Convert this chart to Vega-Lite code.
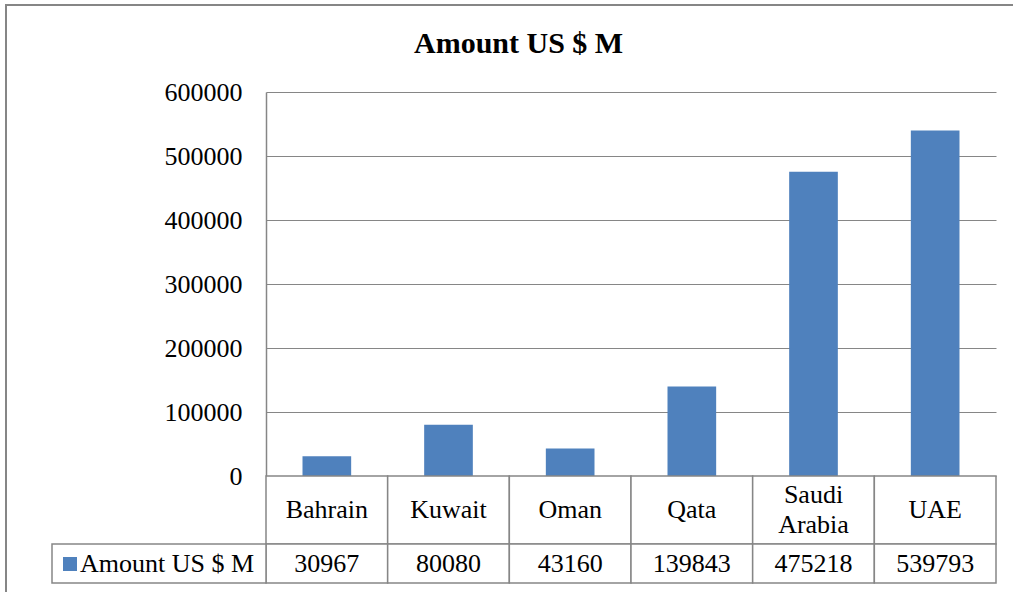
{
  "$schema": "https://vega.github.io/schema/vega-lite/v6.json",
  "width": 1015,
  "height": 595,
  "autosize": {"type": "none"},
  "padding": {"left": 6, "top": 5, "right": -8, "bottom": -8},
  "background": "white",
  "view": {"stroke": "#868686", "strokeWidth": 2, "fill": "white"},
  "title": {"text": "Amount US $ M", "fontSize": 30, "fontWeight": "bold", "font": "Liberation Serif", "color": "black", "anchor": "start", "frame": "group", "offset": -54, "dx": 408},
  "config": {"font": "Liberation Serif"},
  "datasets": {
    "gcc": [
      {"country": "Bahrain", "amount": 30967},
      {"country": "Kuwait", "amount": 80080},
      {"country": "Oman", "amount": 43160},
      {"country": "Qata", "amount": 139843},
      {"country": "Saudi Arabia", "amount": 475218},
      {"country": "UAE", "amount": 539793}
    ]
  },
  "resolve": {"scale": {"x": "independent", "y": "independent"}},
  "layer": [
    {
      "data": {"name": "gcc"},
      "mark": {"type": "bar"},
      "encoding": {
        "x": {"field": "country", "type": "nominal", "sort": null, "scale": {"range": [260, 990], "paddingInner": 0.6, "paddingOuter": 0.3}, "axis": null},
        "y": {"field": "amount", "type": "quantitative", "scale": {"domain": [0, 600000], "range": [471, 87], "nice": false},
          "axis": {"values": [0, 100000, 200000, 300000, 400000, 500000, 600000], "format": "d", "title": null, "ticks": false, "offset": -260, "labelPadding": 24, "labelFontSize": 26, "labelColor": "black", "labelFont": "Liberation Serif", "gridColor": "#868686", "gridOpacity": 1, "gridWidth": 1, "domainColor": "#868686", "domainWidth": 1.5}},
        "color": {"datum": "Amount US $ M", "type": "nominal", "scale": {"range": ["#4F81BD"]},
          "legend": {"orient": "none", "legendX": 51, "legendY": 546, "title": null, "symbolType": "square", "symbolSize": 196, "symbolStrokeWidth": 0, "labelFontSize": 26, "labelColor": "black", "labelFont": "Liberation Serif", "labelOffset": -3, "labelLimit": 400}}
      }
    },
    {
      "data": {"name": "gcc"},
      "encoding": {
        "x": {"field": "country", "type": "nominal", "sort": null, "scale": {"range": [260, 990], "paddingInner": 0, "paddingOuter": 0}, "axis": null},
        "y": {"datum": "names", "type": "nominal", "scale": {"range": [471, 539], "paddingInner": 0, "paddingOuter": 0}, "axis": null}
      },
      "layer": [
        {"mark": {"type": "rect", "fill": "white", "stroke": "#868686", "strokeWidth": 1.5}},
        {"transform": [{"filter": "datum.country !== 'Saudi Arabia'"}], "mark": {"type": "text", "fontSize": 26, "color": "black", "baseline": "middle"}, "encoding": {"text": {"field": "country"}}},
        {"transform": [{"filter": "datum.country === 'Saudi Arabia'"}], "mark": {"type": "text", "fontSize": 26, "color": "black", "baseline": "middle", "lineBreak": " ", "lineHeight": 30, "dy": -15}, "encoding": {"text": {"field": "country"}}}
      ]
    },
    {
      "data": {"name": "gcc"},
      "encoding": {
        "x": {"field": "country", "type": "nominal", "sort": null, "scale": {"range": [260, 990], "paddingInner": 0, "paddingOuter": 0}, "axis": null},
        "y": {"datum": "values", "type": "nominal", "scale": {"range": [539, 578], "paddingInner": 0, "paddingOuter": 0}, "axis": null}
      },
      "layer": [
        {"mark": {"type": "rect", "fill": "white", "stroke": "#868686", "strokeWidth": 1.5}},
        {"mark": {"type": "text", "fontSize": 26, "color": "black", "baseline": "middle"}, "encoding": {"text": {"field": "amount", "format": "d"}}}
      ]
    },
    {
      "data": {"values": [{"series": "Amount US $ M"}]},
      "mark": {"type": "rect", "fill": "white", "stroke": "#868686", "strokeWidth": 1.5},
      "encoding": {
        "x": {"field": "series", "type": "nominal", "scale": {"range": [46, 260], "paddingInner": 0, "paddingOuter": 0}, "axis": null},
        "y": {"datum": "values", "type": "nominal", "scale": {"range": [539, 578], "paddingInner": 0, "paddingOuter": 0}, "axis": null}
      }
    }
  ]
}
